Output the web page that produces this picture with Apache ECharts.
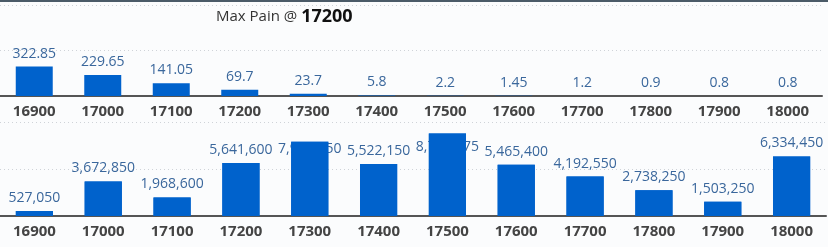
<!DOCTYPE html>
<html><head><meta charset="utf-8">
<script src="https://cdn.jsdelivr.net/npm/echarts@6/dist/echarts.min.js"></script>
<style>
html,body{margin:0;padding:0;background:#fbfcfd;}
#c{width:828px;height:247px;}
#bar{position:absolute;left:0;top:0;width:828px;height:2px;background:#4b5b68;z-index:5;}
</style></head>
<body><div id="bar"></div><div id="c"></div>
<script>
const strikes = ['16900','17000','17100','17200','17300','17400','17500','17600','17700','17800','17900','18000'];
const premiums = [322.85, 229.65, 141.05, 69.7, 23.7, 5.8, 2.2, 1.45, 1.2, 0.9, 0.8, 0.8];
const pain = [527050, 3672850, 1968600, 5641600, 7910250, 5522150, 8768475, 5465400, 4192550, 2738250, 1503250, 6334450];
const maxPainStrike = '17200';

const BAR = '#0062cc', LBL = '#3a679c', FONT = 'Open Sans';
const fmt = v => v.toLocaleString('en-US');

function xAxis(gi){
  return {type:'category', gridIndex:gi, data:strikes,
    axisLine:{lineStyle:{color:'#555', width:2}}, axisTick:{show:false},
    axisLabel:{color:'#444', fontWeight:'bold', fontSize:15, fontFamily:FONT, margin:8}};
}
function yAxis(gi, max, interval){
  return {type:'value', gridIndex:gi, min:0, max:max, interval:interval,
    axisLabel:{show:false}, axisLine:{show:false}, axisTick:{show:false},
    splitLine:{lineStyle:{color:'#cfd3d8', type:[1,3]}}};
}
const painData = pain.map((v,i)=>{
  if (v > 7500000) {
    return {value:v, label:{position:'insideTop', distance: v > 8500000 ? 6 : 0}};
  }
  return v;
});
const lab = f => ({show:true, position:'top', distance:6, color:LBL, fontSize:14, fontFamily:FONT, formatter:f});

const option = {
  animation:false,
  title:{left:211, top:3, text:'{a|Max Pain @ }{b|' + maxPainStrike + '}',
    textStyle:{rich:{a:{fontSize:15, fontWeight:'normal', fontFamily:FONT, color:'#333'}, b:{fontSize:18, fontWeight:'bold', fontFamily:FONT, color:'#111'}}}},
  grid:[{left:0, right:6, top:5, height:91, containLabel:false},
        {left:0, right:2, top:122, height:94, containLabel:false}],
  xAxis:[xAxis(0), xAxis(1)],
  yAxis:[yAxis(0, 1000, 500), yAxis(1, 10000000, 5000000)],
  series:[
    {type:'bar', xAxisIndex:0, yAxisIndex:0, data:premiums, barWidth:'54%', z:2,
     itemStyle:{color:BAR}, label:lab(p=>String(p.value))},
    {type:'bar', xAxisIndex:1, yAxisIndex:1, data:painData, barWidth:'54%', z:2, barGap:'-100%',
     itemStyle:{color:BAR}, label:lab(p=>fmt(p.value)), labelLayout:{hideOverlap:false}},
    {type:'bar', xAxisIndex:1, yAxisIndex:1, data:pain, barWidth:'54%', z:5, barGap:'-100%',
     itemStyle:{color:BAR}, label:{show:false}, silent:true}
  ]
};
echarts.init(document.getElementById('c')).setOption(option);
</script></body></html>
